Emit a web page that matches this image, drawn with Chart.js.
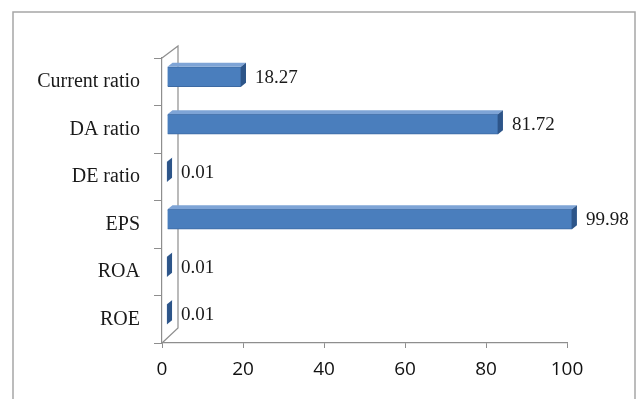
<!DOCTYPE html>
<html>
<head>
<meta charset="utf-8">
<title>Financial ratios</title>
<script src="https://cdn.jsdelivr.net/npm/chart.js@4.4.1/dist/chart.umd.min.js"></script>
<style>
  html, body { margin: 0; padding: 0; background: #fff; }
  canvas { display: block; }
</style>
</head>
<body>
<canvas id="ratioChart" width="643" height="399"></canvas>
<script>
// --- DATA ---
const ratioLabels = ['Current ratio', 'DA ratio', 'DE ratio', 'EPS', 'ROA', 'ROE'];
const ratioValues = [18.27, 81.72, 0.01, 99.98, 0.01, 0.01];
const valueTicks = [0, 20, 40, 60, 80, 100];

// bar depth (3D look) and how far the bars sit behind the front plane
const DEPTH = { dx: 5, dy: -4 };
const SHIFT = { x: 5, y: -5 };
const WALL = { dx: 16, topDy: -12, bottomDy: -15 };

const LINE_GREY = '#8e8e8e';

// frame around the whole chart + white background
const framePlugin = {
    id: 'frame',
    beforeDraw(chart) {
        const ctx = chart.ctx;
        ctx.save();
        ctx.fillStyle = '#fff';
        ctx.fillRect(0, 0, chart.width, chart.height);
        ctx.strokeStyle = '#a6a6a6';
        ctx.lineWidth = 1.5;
        ctx.strokeRect(13, 12, 622, 400);
        ctx.restore();
    }
};

// side wall, 3D faces of the bars and the value labels
const bar3dPlugin = {
    id: 'bar3d',
    beforeDatasetsDraw(chart) {
        const ctx = chart.ctx;
        const a = chart.chartArea;
        ctx.save();
        ctx.strokeStyle = LINE_GREY;
        ctx.lineWidth = 1.2;
        ctx.beginPath();
        ctx.moveTo(a.left, a.top);
        ctx.lineTo(a.left + WALL.dx, a.top + WALL.topDy);
        ctx.lineTo(a.left + WALL.dx, a.bottom + WALL.bottomDy);
        ctx.lineTo(a.left, a.bottom);
        ctx.stroke();
        ctx.restore();

        ctx.save();
        ctx.translate(SHIFT.x, SHIFT.y);
    },
    afterDatasetsDraw(chart) {
        const ctx = chart.ctx;
        const meta = chart.getDatasetMeta(0);
        meta.data.forEach((bar, i) => {
            const p = bar.getProps(['x', 'y', 'base', 'height'], true);
            const top = p.y - p.height / 2;
            const bottom = p.y + p.height / 2;

            // top face
            ctx.fillStyle = '#7ea4d6';
            ctx.beginPath();
            ctx.moveTo(p.base, top);
            ctx.lineTo(p.base + DEPTH.dx, top + DEPTH.dy);
            ctx.lineTo(p.x + DEPTH.dx, top + DEPTH.dy);
            ctx.lineTo(p.x, top);
            ctx.closePath();
            ctx.fill();

            // end face
            ctx.fillStyle = '#2d5589';
            ctx.beginPath();
            ctx.moveTo(p.x, top);
            ctx.lineTo(p.x + DEPTH.dx, top + DEPTH.dy);
            ctx.lineTo(p.x + DEPTH.dx, bottom + DEPTH.dy);
            ctx.lineTo(p.x, bottom);
            ctx.closePath();
            ctx.fill();

            // value label
            ctx.fillStyle = '#1a1a1a';
            ctx.font = '19px "Liberation Serif", "Times New Roman", serif';
            ctx.textAlign = 'left';
            ctx.textBaseline = 'middle';
            ctx.fillText(ratioValues[i].toFixed(2), p.x + DEPTH.dx + 9, p.y + 1);
        });
        ctx.restore();
    }
};

new Chart(document.getElementById('ratioChart'), {
    type: 'bar',
    data: {
        labels: ratioLabels,
        datasets: [{
            data: ratioValues,
            backgroundColor: '#4a7ebd',
            borderColor: '#3d6aa3',
            borderWidth: 1,
            barThickness: 20,
            clip: false
        }]
    },
    options: {
        indexAxis: 'y',
        responsive: false,
        animation: false,
        layout: { padding: { left: 0, right: 76, top: 58, bottom: 0 } },
        plugins: {
            legend: { display: false },
            tooltip: { enabled: false }
        },
        scales: {
            x: {
                min: 0,
                max: 100,
                afterBuildTicks: (scale) => { scale.ticks = valueTicks.map(v => ({ value: v })); },
                afterFit: (scale) => { scale.height = 56; },
                border: { color: LINE_GREY, width: 1.2 },
                grid: { drawOnChartArea: false, drawTicks: true, tickLength: 5, color: LINE_GREY },
                ticks: {
                    padding: 10,
                    color: '#111',
                    font: { family: '"Open Sans", sans-serif', size: 19 }
                }
            },
            y: {
                afterFit: (scale) => { scale.width = 162; },
                border: { color: LINE_GREY, width: 1.2 },
                grid: { drawOnChartArea: false, drawTicks: true, tickLength: 8, offset: true, color: LINE_GREY },
                ticks: {
                    padding: 14,
                    color: '#1a1a1a',
                    font: { family: '"Liberation Serif", "Times New Roman", serif', size: 20 }
                }
            }
        }
    },
    plugins: [framePlugin, bar3dPlugin]
});
</script>
</body>
</html>
